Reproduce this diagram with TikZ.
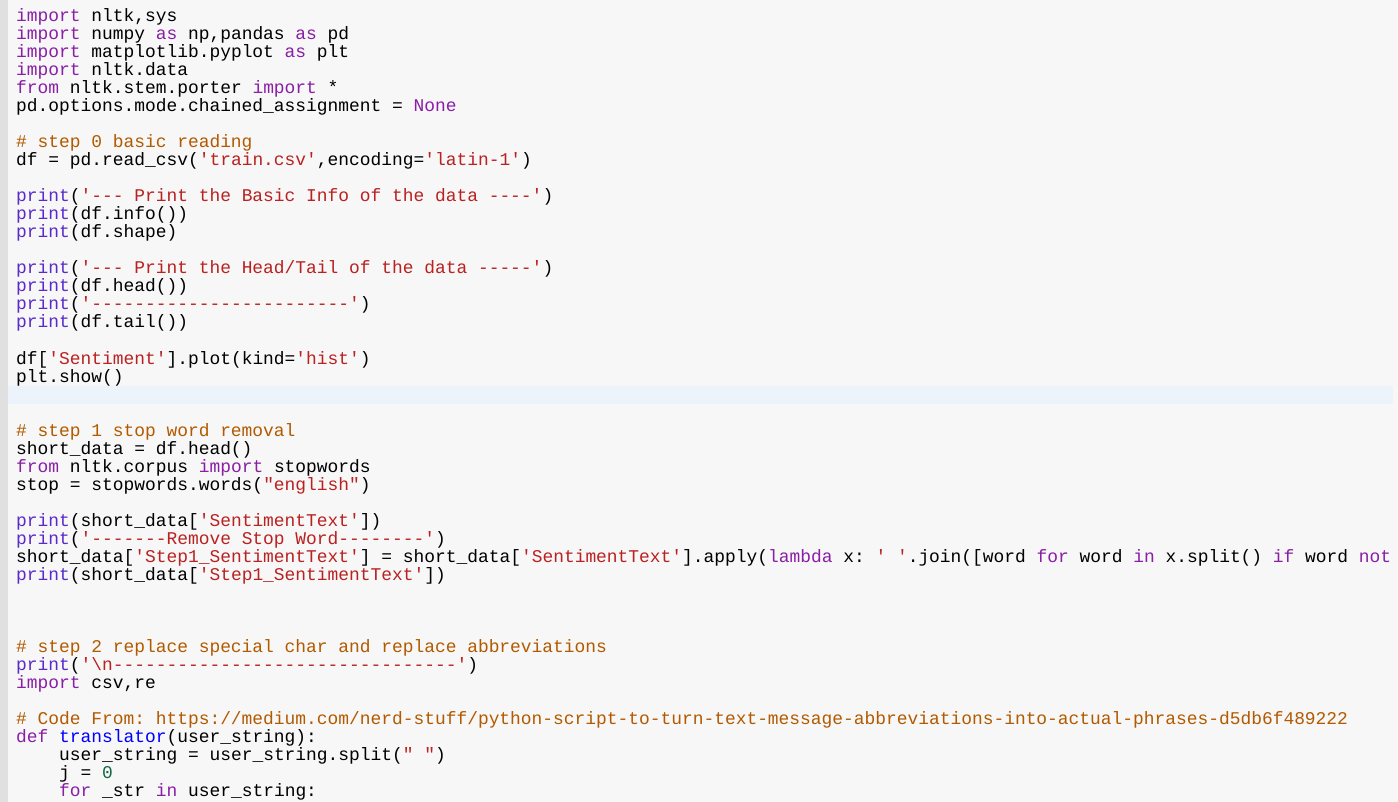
\documentclass[tikz,border=0pt]{standalone}
\usepackage{fontspec}
\setmonofont{Liberation Mono}
\definecolor{bg}{HTML}{F7F7F7}
\definecolor{strip}{HTML}{E0E0E0}
\definecolor{hl}{HTML}{EDF3FB}
\definecolor{kw}{HTML}{8A1FA6}
\definecolor{bi}{HTML}{5A2BC8}
\definecolor{st}{HTML}{BA2121}
\definecolor{cm}{HTML}{B35A00}
\definecolor{nu}{HTML}{116644}
\definecolor{fn}{HTML}{0000FF}
\newcommand{\K}[1]{\textcolor{kw}{#1}}
\newcommand{\B}[1]{\textcolor{bi}{#1}}
\newcommand{\St}[1]{\textcolor{st}{#1}}
\newcommand{\C}[1]{\textcolor{cm}{#1}}
\newcommand{\N}[1]{\textcolor{nu}{#1}}
\newcommand{\F}[1]{\textcolor{fn}{#1}}
\newcommand{\q}{\char39\relax}
\newcommand{\dq}{\char34\relax}
\begin{document}
\begin{tikzpicture}[x=1pt,y=-1pt,
  code/.style={anchor=base west,inner sep=0pt,font=\fontsize{17.9}{18}\ttfamily,text=black}]
\useasboundingbox (0,0) rectangle (1398,802);
\fill[bg] (0,0) rectangle (1398,802);
\fill[strip] (0,0) rectangle (8,802);
\fill[hl] (8,386) rectangle (1393,404);
\def\L#1#2#3{\node[code] (l#1) at (#2,{#1*18+22}) {#3};}
\L{0}{16}{\K{import} nltk,sys}
\L{1}{16}{\K{import} numpy \K{as} np,pandas \K{as} pd}
\L{2}{16}{\K{import} matplotlib.pyplot \K{as} plt}
\L{3}{16}{\K{import} nltk.data}
\L{4}{16}{\K{from} nltk.stem.porter \K{import} *}
\L{5}{16}{pd.options.mode.chained\_assignment = \K{None}}
\L{7}{16}{\C{\# step 0 basic reading}}
\L{8}{16}{df = pd.read\_csv(\St{\q train.csv\q},encoding=\St{\q latin-1\q})}
\L{10}{16}{\B{print}(\St{\q{}--- Print the Basic Info of the data ----\q})}
\L{11}{16}{\B{print}(df.info())}
\L{12}{16}{\B{print}(df.shape)}
\L{14}{16}{\B{print}(\St{\q{}--- Print the Head/Tail of the data -----\q})}
\L{15}{16}{\B{print}(df.head())}
\L{16}{16}{\B{print}(\St{\q{}------------------------\q})}
\L{17}{16}{\B{print}(df.tail())}
\L{19}{16}{df[\St{\q Sentiment\q}].plot(kind=\St{\q hist\q})}
\L{20}{16}{plt.show()}
\L{23}{16}{\C{\# step 1 stop word removal}}
\L{24}{16}{short\_data = df.head()}
\L{25}{16}{\K{from} nltk.corpus \K{import} stopwords}
\L{26}{16}{stop = stopwords.words(\St{\dq english\dq})}
\L{28}{16}{\B{print}(short\_data[\St{\q SentimentText\q}])}
\L{29}{16}{\B{print}(\St{\q{}-------Remove Stop Word--------\q})}
\L{30}{16}{short\_data[\St{\q Step1\_SentimentText\q}] = short\_data[\St{\q SentimentText\q}].apply(\K{lambda} x: \St{\q{} \q}.join([word \K{for} word \K{in} x.split() \K{if} word \K{not}}
\L{31}{16}{\B{print}(short\_data[\St{\q Step1\_SentimentText\q}])}
\L{35}{16}{\C{\# step 2 replace special char and replace abbreviations}}
\L{36}{16}{\B{print}(\St{\q\textbackslash n--------------------------------\q})}
\L{37}{16}{\K{import} csv,re}
\L{39}{16}{\C{\# Code From: https://medium.com/nerd-stuff/python-script-to-turn-text-message-abbreviations-into-actual-phrases-d5db6f489222}}
\L{40}{16}{\K{def} \F{translator}(user\_string):}
\L{41}{59}{user\_string = user\_string.split(\St{\dq{} \dq})}
\L{42}{59}{j = \N{0}}
\L{43}{59}{\K{for} \_str \K{in} user\_string:}
\end{tikzpicture}
\end{document}
